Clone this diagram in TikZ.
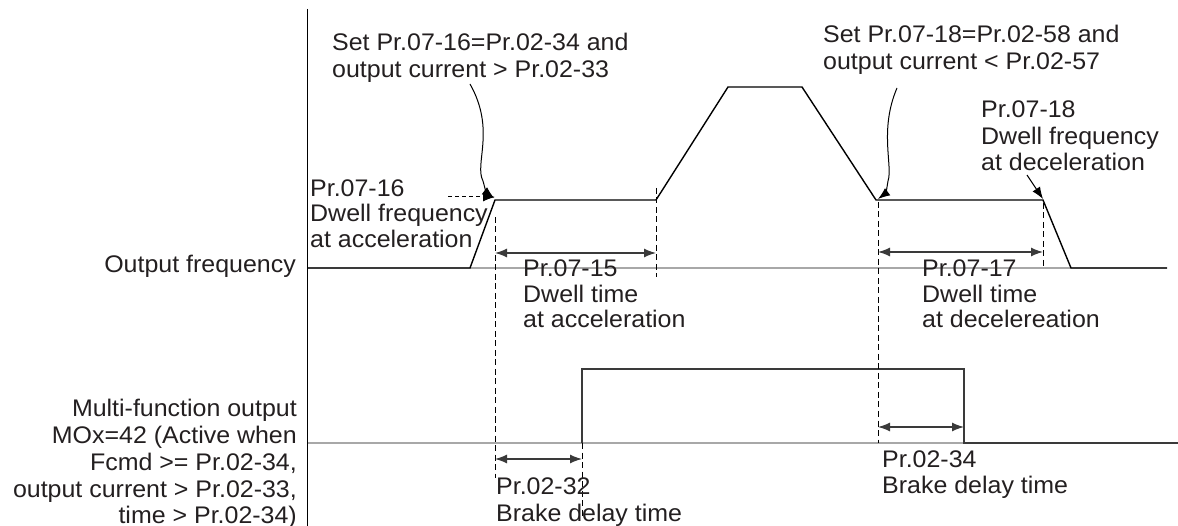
\documentclass[tikz,border=0pt]{standalone}
\usepackage{fontspec}
\setmainfont{Liberation Sans}
\usetikzlibrary{arrows.meta}
\definecolor{txt}{HTML}{231F20}
\definecolor{base}{HTML}{A8A8A8}
\definecolor{dark}{HTML}{3A3A3A}
\tikzset{
  lbl/.style={inner sep=0pt, anchor=base west, text=txt, xscale=1.04, transform shape, font=\fontsize{24}{27}\selectfont},
  rlbl/.style={lbl, anchor=base east},
  sig/.style={line width=1.4pt, black},
  baseln/.style={line width=1.2pt, base},
  guide/.style={line width=1pt, dash pattern=on 6pt off 3.5pt, black},
  dim/.style={line width=1.3pt, dark, {Latex[length=12pt,width=9pt]}-{Latex[length=12pt,width=9pt]}},
  pointer/.style={line width=1pt, black, -{Latex[length=12pt,width=9pt]}},
}
\begin{document}
\begin{tikzpicture}[x=1pt,y=-1pt]
\useasboundingbox (0,0) rectangle (1178,526);
% axis
\coordinate (axT) at (307.5,9);
\coordinate (axB) at (307.5,526);
\draw[line width=1.2pt] (axT) -- (axB);
% output frequency baseline and signal
\coordinate (f0) at (308,268);
\coordinate (fE) at (1167,268);
\draw[baseln] (f0) -- (fE);
\coordinate (f1) at (470,268);
\coordinate (f2) at (495,200);
\coordinate (f3) at (656,200);
\coordinate (f4) at (728,87);
\coordinate (f5) at (802,87);
\coordinate (f6) at (876,200);
\coordinate (f7) at (1043,200);
\coordinate (f8) at (1071,268);
\draw[sig] (f0) -- (f1) -- (f2) -- (f3) -- (f4) -- (f5) -- (f6) -- (f7) -- (f8) -- (fE);
% MOx baseline and pulse
\coordinate (m0) at (308,443);
\coordinate (mE) at (1178,443);
\draw[baseln] (m0) -- (mE);
\coordinate (m1) at (582,443);
\coordinate (m2) at (582,369);
\coordinate (m3) at (964,369);
\coordinate (m4) at (964,443);
\draw[line width=1.3pt, dark] (m1) -- (m2) -- (m3) -- (m4) -- (mE);
% guide lines
\coordinate (g1a) at (495,217); \coordinate (g1b) at (495,478);
\coordinate (g2a) at (582,443); \coordinate (g2b) at (582,516);
\coordinate (g3a) at (656,188); \coordinate (g3b) at (656,277);
\coordinate (g4a) at (878,202); \coordinate (g4b) at (878,443);
\coordinate (g5a) at (1043,203); \coordinate (g5b) at (1043,267);
\draw[guide] (g1a) -- (g1b);
\draw[guide] (g2a) -- (g2b);
\draw[guide] (g3a) -- (g3b);
\draw[guide] (g4a) -- (g4b);
\draw[guide] (g5a) -- (g5b);
% dimension arrows
\coordinate (d1a) at (495,253); \coordinate (d1b) at (656,253);
\coordinate (d2a) at (878,252); \coordinate (d2b) at (1043,252);
\coordinate (d3a) at (495,459); \coordinate (d3b) at (582,459);
\coordinate (d4a) at (878,427); \coordinate (d4b) at (964,427);
\draw[dim] (d1a) -- (d1b);
\draw[dim] (d2a) -- (d2b);
\draw[dim] (d3a) -- (d3b);
\draw[dim] (d4a) -- (d4b);
% pointers
\coordinate (p1s) at (470,84);
\coordinate (p1m) at (483,181);
\coordinate (p1e) at (494,198);
\draw[pointer] (p1s) .. controls (496,130) and (474,164) .. (p1m) .. controls (486,192) .. (p1e);
\coordinate (p2s) at (897,88);
\coordinate (p2m) at (888,181);
\coordinate (p2e) at (878,199);
\draw[pointer] (p2s) .. controls (879,130) and (893,166) .. (p2m) .. controls (886,193) .. (p2e);
\coordinate (p3s) at (1027,175);
\coordinate (p3e) at (1043,199);
\draw[pointer] (p3s) -- (p3e);
\coordinate (p4s) at (448,197);
\coordinate (p4e) at (495,197);
\draw[pointer, dash pattern=on 4pt off 3pt] (p4s) -- (p4e);
% texts
\node[lbl] (sa1) at (332,51) {Set Pr.07-16=Pr.02-34 and};
\node[lbl] (sa2) at (332,78) {output current > Pr.02-33};
\node[lbl] (sb1) at (823,43) {Set Pr.07-18=Pr.02-58 and};
\node[lbl] (sb2) at (823,70) {output current < Pr.02-57};
\node[lbl] (da1) at (981,118) {Pr.07-18};
\node[lbl] (da2) at (981,145) {Dwell frequency};
\node[lbl] (da3) at (981,171) {at deceleration};
\node[lbl] (aa1) at (310,197) {Pr.07-16};
\node[lbl] (aa2) at (310,222) {Dwell frequency};
\node[lbl] (aa3) at (310,248) {at acceleration};
\node[lbl] (ta1) at (523,277) {Pr.07-15};
\node[lbl] (ta2) at (523,303) {Dwell time};
\node[lbl] (ta3) at (523,328) {at acceleration};
\node[lbl] (tb1) at (922,277) {Pr.07-17};
\node[lbl] (tb2) at (922,303) {Dwell time};
\node[lbl] (tb3) at (922,328) {at decelereation};
\node[rlbl] (of) at (296,273) {Output frequency};
\node[rlbl] (mo1) at (297,417) {Multi-function output};
\node[rlbl] (mo2) at (297,443) {MOx=42 (Active when};
\node[rlbl] (mo3) at (297,470) {Fcmd >= Pr.02-34,};
\node[rlbl] (mo4) at (297,497) {output current > Pr.02-33,};
\node[rlbl] (mo5) at (297,523) {time > Pr.02-34)};
\node[lbl] (bd1) at (496,494) {Pr.02-32};
\node[lbl] (bd2) at (496,521) {Brake delay time};
\node[lbl] (be1) at (882,467) {Pr.02-34};
\node[lbl] (be2) at (882,493) {Brake delay time};
\end{tikzpicture}
\end{document}
